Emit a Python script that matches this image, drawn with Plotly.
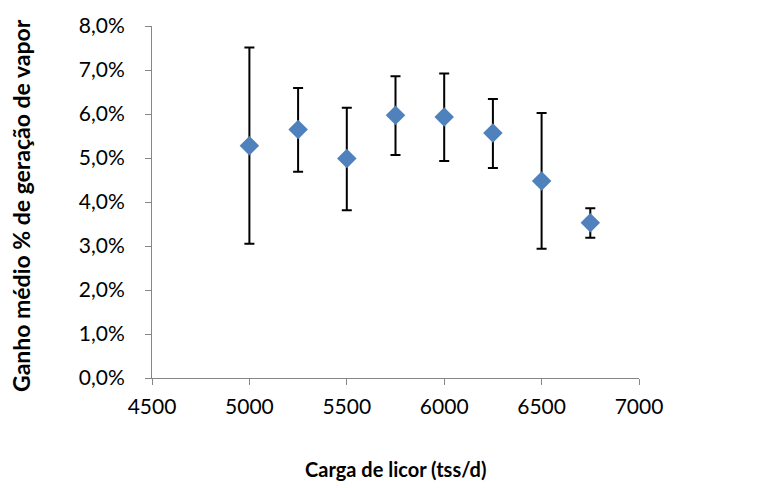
import plotly.graph_objects as go

carga = [5000, 5250, 5500, 5750, 6000, 6250, 6500, 6750]
ganho = [0.0528, 0.0565, 0.0499, 0.0597, 0.0593, 0.0557, 0.0448, 0.0353]
erro_sup = [0.0751, 0.0659, 0.0614, 0.0686, 0.0692, 0.0634, 0.0602, 0.0386]
erro_inf = [0.0305, 0.0469, 0.0381, 0.0507, 0.0493, 0.0477, 0.0294, 0.0319]
y_ticks = [0, 0.01, 0.02, 0.03, 0.04, 0.05, 0.06, 0.07, 0.08]
x_ticks = [4500, 5000, 5500, 6000, 6500, 7000]

plus = [s - g for s, g in zip(erro_sup, ganho)]
minus = [g - i for g, i in zip(ganho, erro_inf)]

font_family = "Lato, 'Open Sans', sans-serif"

fig = go.Figure()
fig.add_trace(go.Scatter(
    x=carga, y=ganho, mode="markers",
    marker=dict(symbol="diamond", size=15, color="#4F81BD", line=dict(width=0)),
    error_y=dict(type="data", symmetric=False, array=plus, arrayminus=minus,
                 color="black", thickness=2, width=5),
    showlegend=False,
))

axis_line = "#868686"
fig.update_layout(
    width=775, height=488,
    margin=dict(l=152, r=136, t=23, b=110),
    plot_bgcolor="white", paper_bgcolor="white",
    separators=",.",
    font=dict(family=font_family, size=21, color="black"),
    xaxis=dict(
        range=[4500, 7000], tickvals=x_ticks,
        showgrid=False, zeroline=False,
        showline=True, linecolor=axis_line, linewidth=1,
        ticks="outside", ticklen=6, tickcolor=axis_line,
        tickfont=dict(size=21), ticklabelstandoff=4,
    ),
    yaxis=dict(
        range=[0, 0.08], tickvals=y_ticks, tickformat=".1%",
        showgrid=False, zeroline=False,
        showline=True, linecolor=axis_line, linewidth=1,
        ticks="outside", ticklen=6, tickcolor=axis_line,
        tickfont=dict(size=21), ticklabelstandoff=16,
    ),
    annotations=[
        dict(text="<b>Carga de licor (tss/d)</b>", xref="paper", yref="paper",
             x=0.5, y=-0.259, xanchor="center", yanchor="middle",
             showarrow=False, font=dict(size=20)),
        dict(text="<b>Ganho médio % de geração de vapor</b>", xref="paper", yref="paper",
             x=-0.27, y=0.49, xanchor="center", yanchor="middle", textangle=-90,
             showarrow=False, font=dict(size=23)),
    ],
)

fig.write_html("out.html")
